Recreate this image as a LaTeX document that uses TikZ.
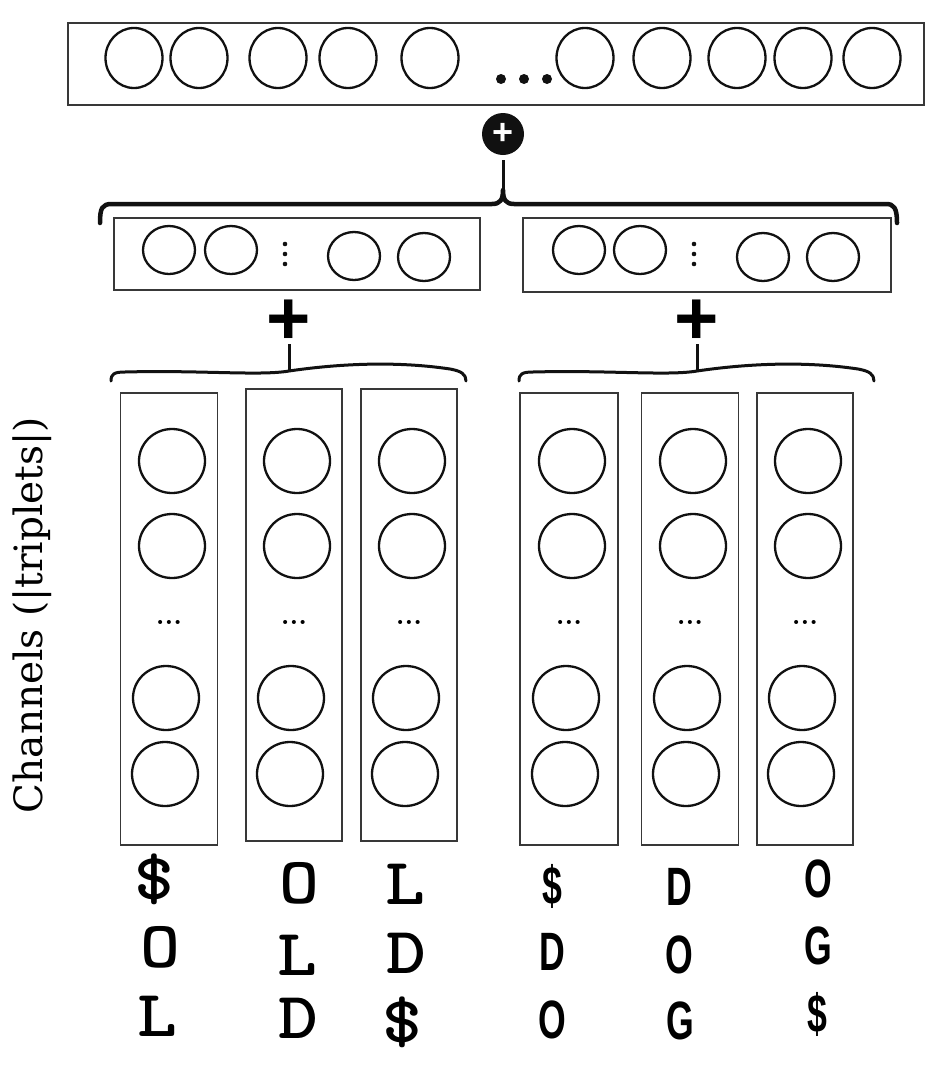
\documentclass[tikz,border=0pt]{standalone}
\usepackage{fontspec}
\usepackage{xcolor}
\usepackage{tikz}
\usetikzlibrary{positioning, calc, shapes.geometric}
\newfontfamily\chanfont{DejaVu Serif}
\newfontfamily\gridfont{Liberation Sans}
\definecolor{nnink}{HTML}{111111}
\definecolor{nnframe}{HTML}{383838}
\tikzset{
  neuron/.style={ellipse, draw=nnink, line width=2.3pt, inner sep=0pt,
                 minimum width=66pt, minimum height=64pt},
  layer/.style={rectangle, draw=nnframe, line width=1.8pt, inner sep=0pt},
  bigbrace/.style={draw=nnink, line width=4.5pt, line cap=round, line join=round},
  smallbrace/.style={draw=nnink, line width=3pt, line cap=round, line join=round},
  stem/.style={draw=nnink, line width=3pt},
  addsign/.style={inner sep=0pt, font=\gridfont\bfseries\fontsize{76}{76}\selectfont},
  sumnode/.style={circle, fill=nnink, text=white, inner sep=0pt, minimum size=42pt,
                  font=\gridfont\bfseries\fontsize{36}{36}\selectfont},
  slabchar/.style={xscale=1.15, font=\ttfamily\bfseries\fontsize{66}{66}\selectfont},
  narrowchar/.style={xscale=0.66, font=\gridfont\bfseries\fontsize{54}{54}\selectfont},
  dotrow/.style={font=\bfseries\fontsize{28}{28}\selectfont}
}

\begin{document}
\begin{tikzpicture}[x=1pt, y=-1pt]
  \fill[white] (0,0) rectangle (930,1071);
  \useasboundingbox (0,0) rectangle (930,1071);

  % concatenated output layer
  \node[layer, minimum width=856pt, minimum height=82pt] (top) at (496,64) {};
  \foreach \cx [count=\i] in {134,199,278,348,430,585,662,737,803,872}
    \node[neuron, minimum width=57pt, minimum height=60pt] (top-\i) at (\cx,58) {};
  \foreach \dx in {0,23,46}
    \fill[nnink] (501+\dx,79) circle[radius=5pt];
  \node[sumnode] (sum) at (503,134) {+};

  % brace over the two word vectors
  \coordinate (bigtip) at (503,190);
  \draw[stem] ([yshift=-5pt]sum.south) -- (bigtip);
  \draw[bigbrace] (100,223) .. controls (100,208) and (102,204) .. (112,204)
    -- (492,204) .. controls (500,204) and (503,200) .. (bigtip)
    .. controls (503,200) and (506,204) .. (514,204)
    -- (886,204) .. controls (894,204) and (897,208) .. (897,223);

  % word vectors
  \node[layer, minimum width=366pt, minimum height=72pt] (wordL) at (297,254) {};
  \node[layer, minimum width=368pt, minimum height=74pt] (wordR) at (707,255) {};
  \foreach \cx/\cy [count=\i] in {169/250,231/250,354/256,424/257}
    \node[neuron, minimum width=52pt, minimum height=48pt] (wordL-\i) at (\cx,\cy) {};
  \foreach \cx/\cy [count=\i] in {579/250,640/250,763/257,833/257}
    \node[neuron, minimum width=52pt, minimum height=48pt] (wordR-\i) at (\cx,\cy) {};
  \foreach \cx in {285,694}
    \foreach \dy in {0,10,20}
      \fill[nnink] (\cx,244+\dy) circle[radius=2.3pt];

  % sums over the triplet columns
  \foreach \dx/\side in {0/L,408/R}{
    \coordinate (tip\side) at (289+\dx,371);
    \node[addsign] (add\side) at (289+\dx,322) {+};
    \draw[stem] (tip\side) -- (add\side.south);
    \draw[smallbrace] (111+\dx,381) .. controls (111+\dx,374) and (114+\dx,372) .. (125+\dx,372)
      .. controls (200+\dx,370) and (260+\dx,376) .. (tip\side)
      .. controls (330+\dx,365) and (390+\dx,360) .. (450+\dx,369)
      .. controls (461+\dx,371) and (466+\dx,374) .. (466+\dx,381);
  }

  % triplet columns
  \foreach \name/\cx/\cy/\w in {c1/169/619/97, c2/294/615/96, c3/409/615/96,
                                c4/569/619/98, c5/690/619/97, c6/805/619/96}{
    \node[layer, minimum width=\w pt, minimum height=452pt] (\name) at (\cx,\cy) {};
    \node[neuron] (\name-1) at (\cx+3,461) {};
    \node[neuron] (\name-2) at (\cx+3,546) {};
    \node[neuron] (\name-3) at (\cx-3,698) {};
    \node[neuron] (\name-4) at (\cx-4,774) {};
    \node[dotrow] (\name-dots) at (\cx,622) {...};
  }

  \node[rotate=90, font=\chanfont\fontsize{39}{39}\selectfont] (chan) at (32,615)
    {Channels (|triplets|)};

  % character triplets
  \foreach \ch/\cx/\cy [count=\i] in {\$/154/879, O/160/947, L/157/1016,
                                      O/299/883, L/297/955, D/298/1018,
                                      L/405/884, D/406/953, \$/402/1022}
    \node[slabchar] (old-\i) at (\cx,\cy) {\ch};
  \foreach \ch/\cx/\cy [count=\i] in {\$/552/886, D/552/952, O/552/1020,
                                      D/679/887, O/679/955, G/680/1021,
                                      O/818/879, G/818/946, \$/817/1014}
    \node[narrowchar] (dog-\i) at (\cx,\cy) {\ch};
\end{tikzpicture}
\end{document}
